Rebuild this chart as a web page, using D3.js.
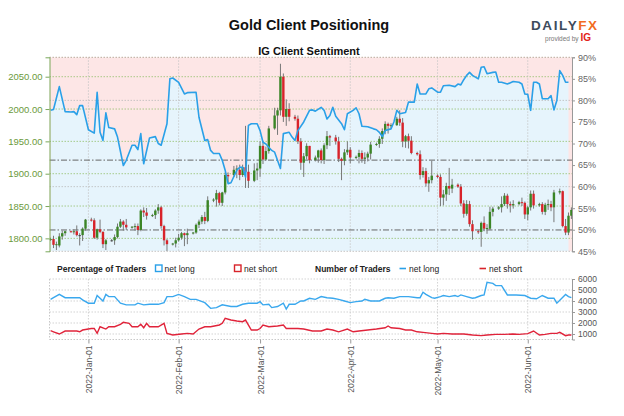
<!DOCTYPE html>
<html><head><meta charset="utf-8">
<script src="https://cdn.jsdelivr.net/npm/d3@7"></script>
<style>body{margin:0;background:#fff;} svg{display:block;font-family:"Liberation Sans",Arial,sans-serif;}</style>
</head><body><svg id="c" width="624" height="416"></svg>
<script>
// ---------- DATA ----------
const candleDates = [
"2021-12-19","2021-12-20","2021-12-21","2021-12-22","2021-12-23","2021-12-24",
"2021-12-26","2021-12-27","2021-12-28","2021-12-29","2021-12-30","2021-12-31",
"2022-01-02","2022-01-03","2022-01-04","2022-01-05","2022-01-06","2022-01-07",
"2022-01-09","2022-01-10","2022-01-11","2022-01-12","2022-01-13","2022-01-14",
"2022-01-16","2022-01-17","2022-01-18","2022-01-19","2022-01-20","2022-01-21",
"2022-01-23","2022-01-24","2022-01-25","2022-01-26","2022-01-27","2022-01-28",
"2022-01-30","2022-01-31","2022-02-01","2022-02-02","2022-02-03","2022-02-04",
"2022-02-06","2022-02-07","2022-02-08","2022-02-09","2022-02-10","2022-02-11",
"2022-02-13","2022-02-14","2022-02-15","2022-02-16","2022-02-17","2022-02-18",
"2022-02-20","2022-02-21","2022-02-22","2022-02-23","2022-02-24","2022-02-25",
"2022-02-27","2022-02-28","2022-03-01","2022-03-02","2022-03-03","2022-03-04",
"2022-03-06","2022-03-07","2022-03-08","2022-03-09","2022-03-10","2022-03-11",
"2022-03-13","2022-03-14","2022-03-15","2022-03-16","2022-03-17","2022-03-18",
"2022-03-20","2022-03-21","2022-03-22","2022-03-23","2022-03-24","2022-03-25",
"2022-03-27","2022-03-28","2022-03-29","2022-03-30","2022-03-31","2022-04-01",
"2022-04-03","2022-04-04","2022-04-05","2022-04-06","2022-04-07","2022-04-08",
"2022-04-10","2022-04-11","2022-04-12","2022-04-13","2022-04-14","2022-04-15",
"2022-04-17","2022-04-18","2022-04-19","2022-04-20","2022-04-21","2022-04-22",
"2022-04-24","2022-04-25","2022-04-26","2022-04-27","2022-04-28","2022-04-29",
"2022-05-01","2022-05-02","2022-05-03","2022-05-04","2022-05-05","2022-05-06",
"2022-05-08","2022-05-09","2022-05-10","2022-05-11","2022-05-12","2022-05-13",
"2022-05-15","2022-05-16","2022-05-17","2022-05-18","2022-05-19","2022-05-20",
"2022-05-22","2022-05-23","2022-05-24","2022-05-25","2022-05-26","2022-05-27",
"2022-05-29","2022-05-30","2022-05-31","2022-06-01","2022-06-02","2022-06-03",
"2022-06-05","2022-06-06","2022-06-07","2022-06-08","2022-06-09","2022-06-10",
"2022-06-12","2022-06-13","2022-06-14","2022-06-15","2022-06-16"];
const candleOpen = [
1798,1799,1790,1789,1803,1808, 1811,1810,1811,1805,1805,1815, 1829,1828,1801,1814,1810,1791,
1797,1797,1802,1818,1826,1821, 1817,1818,1819,1813,1843,1840, 1835,1836,1843,1848,1819,1797,
1791,1792,1797,1801,1808,1805, 1808,1809,1821,1826,1833,1827, 1859,1860,1870,1855,1871,1898,
1898,1906,1906,1898,1910,1903, 1889,1905,1908,1943,1922,1935, 1970,1990,1998,2050,1988,2000,
1988,1985,1950,1917,1927,1943, 1921,1925,1936,1921,1944,1958, 1956,1950,1923,1920,1933,1937,
1925,1926,1932,1923,1925,1931, 1945,1946,1954,1966,1977,1974, 1975,1985,1979,1950,1958,1951,
1932,1930,1898,1904,1885,1890, 1897,1895,1863,1868,1881,1877, 1883,1880,1854,1838,1853,1822,
1811,1810,1824,1815,1815,1841, 1846,1848,1853,1866,1853,1851, 1853,1856,1855,1837,1848,1869,
1851,1853,1841,1852,1853,1848, 1871,1873,1819,1809,1835];
const candleHigh = [
1801,1804,1795,1808,1812,1812, 1812,1814,1820,1808,1817,1830, 1832,1831,1815,1829,1811,1799,
1799,1806,1823,1830,1828,1830, 1819,1823,1823,1845,1848,1847, 1838,1845,1853,1850,1821,1799,
1793,1801,1807,1810,1809,1815, 1810,1823,1829,1836,1841,1865, 1862,1875,1872,1872,1902,1902,
1912,1913,1914,1914,1974,1914, 1916,1917,1950,1950,1942,1974, 2002,2002,2070,2055,2015,2009,
1991,1990,1955,1932,1947,1943, 1928,1937,1939,1947,1966,1960, 1960,1957,1925,1938,1950,1941,
1928,1937,1936,1933,1934,1949, 1948,1958,1970,1981,1979,1978, 1988,1998,1986,1960,1962,1958,
1934,1936,1910,1909,1895,1920, 1899,1899,1875,1886,1909,1892, 1885,1884,1859,1859,1858,1828,
1813,1826,1834,1822,1849,1849, 1850,1865,1870,1869,1857,1859, 1858,1863,1857,1850,1874,1874,
1855,1856,1855,1860,1858,1875, 1877,1874,1830,1840,1848];
const candleLow = [
1796,1785,1782,1786,1798,1804, 1809,1806,1803,1789,1796,1812, 1826,1799,1798,1808,1785,1782,
1795,1790,1800,1816,1812,1813, 1815,1812,1805,1811,1833,1829, 1833,1830,1838,1815,1789,1780,
1789,1786,1795,1798,1788,1791, 1806,1807,1816,1822,1822,1825, 1856,1849,1851,1850,1868,1887,
1895,1893,1890,1895,1878,1878, 1887,1890,1895,1915,1920,1931, 1968,1960,1990,1980,1974,1981,
1982,1946,1906,1895,1922,1916, 1919,1917,1916,1915,1938,1943, 1945,1918,1890,1913,1929,1916,
1922,1916,1917,1915,1919,1922, 1943,1940,1946,1961,1962,1970, 1974,1974,1941,1940,1939,1930,
1928,1891,1894,1880,1872,1885, 1893,1850,1851,1858,1867,1870, 1878,1850,1832,1835,1818,1798,
1807,1787,1811,1807,1813,1834, 1844,1840,1850,1846,1840,1846, 1851,1850,1830,1828,1843,1846,
1849,1837,1836,1844,1842,1825, 1868,1817,1805,1805,1830];
const candleClose = [
1799,1790,1791,1803,1808,1811, 1810,1811,1805,1805,1815,1829, 1828,1801,1814,1810,1791,1797,
1797,1802,1818,1826,1821,1817, 1818,1819,1813,1843,1840,1835, 1836,1843,1848,1819,1797,1791,
1792,1797,1801,1808,1805,1808, 1809,1821,1826,1833,1827,1859, 1860,1870,1855,1871,1898,1896,
1906,1908,1898,1910,1903,1889, 1905,1908,1943,1922,1935,1970, 1990,1998,2050,1988,2000,1988,
1985,1950,1917,1927,1943,1921, 1925,1936,1921,1944,1958,1956, 1950,1923,1920,1933,1937,1925,
1926,1932,1923,1925,1931,1945, 1946,1954,1966,1977,1974,1975, 1985,1979,1950,1958,1951,1932,
1930,1898,1904,1885,1890,1897, 1895,1863,1868,1881,1877,1883, 1880,1854,1838,1853,1822,1811,
1810,1824,1815,1816,1841,1846, 1848,1853,1866,1853,1851,1853, 1856,1855,1837,1848,1869,1851,
1853,1841,1852,1853,1848,1871, 1873,1819,1809,1835,1844];

// IG client sentiment: % of traders net long
const sentDates = [
"2021-12-19","2021-12-20","2021-12-22","2021-12-24","2021-12-26","2021-12-27","2021-12-28","2021-12-29","2021-12-30",
"2022-01-01","2022-01-03","2022-01-04","2022-01-05","2022-01-06","2022-01-07","2022-01-08","2022-01-10","2022-01-11",
"2022-01-13","2022-01-14","2022-01-16","2022-01-17","2022-01-18","2022-01-19","2022-01-20","2022-01-22","2022-01-24",
"2022-01-25","2022-01-26","2022-01-28","2022-01-29","2022-01-30",
"2022-02-01","2022-02-03","2022-02-04","2022-02-07","2022-02-08","2022-02-10","2022-02-11","2022-02-12","2022-02-13",
"2022-02-15","2022-02-16","2022-02-17","2022-02-18","2022-02-19","2022-02-21","2022-02-22","2022-02-23","2022-02-24",
"2022-02-25","2022-02-26","2022-02-28",
"2022-03-01","2022-03-02","2022-03-03","2022-03-05","2022-03-06","2022-03-08","2022-03-09","2022-03-11","2022-03-12",
"2022-03-13","2022-03-14","2022-03-16","2022-03-18","2022-03-19","2022-03-20","2022-03-22","2022-03-23","2022-03-24",
"2022-03-25","2022-03-26","2022-03-27","2022-03-29","2022-03-30","2022-03-31",
"2022-04-02","2022-04-03","2022-04-04","2022-04-05","2022-04-07","2022-04-09","2022-04-10","2022-04-11","2022-04-12",
"2022-04-13","2022-04-15","2022-04-16","2022-04-17","2022-04-18","2022-04-20","2022-04-21","2022-04-23","2022-04-24",
"2022-04-25","2022-04-27","2022-04-28","2022-04-29",
"2022-05-01","2022-05-02","2022-05-03","2022-05-05","2022-05-07","2022-05-08","2022-05-09","2022-05-10","2022-05-11",
"2022-05-12","2022-05-13","2022-05-15","2022-05-16","2022-05-17","2022-05-18","2022-05-20","2022-05-21","2022-05-22",
"2022-05-23","2022-05-25","2022-05-27","2022-05-29","2022-05-30","2022-05-31",
"2022-06-01","2022-06-02","2022-06-03","2022-06-04","2022-06-05","2022-06-06","2022-06-08","2022-06-09","2022-06-10",
"2022-06-11","2022-06-12","2022-06-13","2022-06-14","2022-06-15"];
const sentLong = [
77.7,77.9,83.2,77.4,77.3,77.4,76.7,78.8,78.8,
73.2,72.4,81.9,72.6,70.7,77.1,73.7,73.4,71.5,
64.9,66.1,69.6,69.6,68.6,72.3,65.3,71.3,71.6,
70.0,69.6,74.6,85.0,85.2,
84.2,81.5,81.8,81.9,76.1,70.7,70.9,68.4,67.7,
67.7,66.1,63.8,60.7,60.9,63.8,64.5,64.5,62.2,
74.2,74.6,74.6,
73.0,70.3,69.9,68.4,68.0,64.2,72.3,72.6,71.5,
70.7,73.0,75.0,77.7,77.8,77.5,78.4,77.7,75.7,
76.5,78.4,76.3,74.6,73.2,76.9,
77.7,78.3,76.9,74.0,73.9,73.4,73.2,72.6,71.6,
73.0,73.4,75.0,77.7,76.9,77.2,79.6,79.6,83.8,
81.5,81.5,82.7,82.9,
81.9,81.9,83.4,83.5,83.2,83.8,83.6,84.8,85.8,
86.5,85.8,85.0,87.7,87.8,86.2,86.5,86.6,84.2,
84.2,83.8,84.4,84.2,83.8,81.5,
81.4,77.7,84.2,84.2,83.8,80.4,80.4,81.1,77.8,
80.0,86.9,85.8,84.2,84.2];

// Number of traders net long
const longDates = [
"2021-12-19","2021-12-20","2021-12-22","2021-12-24","2021-12-29","2021-12-30",
"2022-01-01","2022-01-03","2022-01-04","2022-01-05","2022-01-06","2022-01-07","2022-01-08","2022-01-10","2022-01-12",
"2022-01-14","2022-01-17","2022-01-18","2022-01-20","2022-01-22","2022-01-25","2022-01-27","2022-01-28","2022-01-30",
"2022-02-01","2022-02-03","2022-02-05","2022-02-07","2022-02-10","2022-02-12","2022-02-14","2022-02-16","2022-02-19",
"2022-02-21","2022-02-23","2022-02-25","2022-02-28",
"2022-03-01","2022-03-02","2022-03-04","2022-03-05","2022-03-07","2022-03-09","2022-03-10","2022-03-11","2022-03-13",
"2022-03-15","2022-03-16","2022-03-18","2022-03-20","2022-03-22","2022-03-24","2022-03-26","2022-03-28","2022-03-30",
"2022-04-01","2022-04-03","2022-04-05","2022-04-06","2022-04-08","2022-04-11","2022-04-13","2022-04-14","2022-04-16",
"2022-04-18","2022-04-21","2022-04-24","2022-04-25","2022-04-26","2022-04-27","2022-04-29","2022-04-30",
"2022-05-02","2022-05-03","2022-05-05","2022-05-07","2022-05-08","2022-05-09","2022-05-11","2022-05-13","2022-05-14",
"2022-05-16","2022-05-17","2022-05-18","2022-05-20","2022-05-21","2022-05-23","2022-05-25","2022-05-28","2022-05-31",
"2022-06-02","2022-06-04","2022-06-06","2022-06-08","2022-06-10","2022-06-11","2022-06-14","2022-06-15","2022-06-16"];
const longCounts = [
4150,4300,4600,4300,4300,4100,
3800,3800,4500,4250,4000,4600,4400,4400,3800,
3650,3650,3800,3650,3700,3700,3850,4400,4400,
4600,4400,4150,4150,3850,3330,3400,3650,3500,
3500,3700,3800,3800,
3940,3650,3700,3400,3500,3800,3270,3700,3700,
4000,4000,4250,4150,4400,4300,4250,4150,4000,
3850,3940,4000,4150,4000,4000,4250,4300,4250,
4400,4400,4300,4300,4800,4600,4300,4250,
4400,4500,4400,4500,4400,4550,4400,4250,4300,
4500,4550,5700,5600,5400,5400,4550,4550,4500,
4250,4200,4500,4250,4250,3800,4600,4400,4300];

// Number of traders net short
const shortDates = [
"2021-12-19","2021-12-20","2021-12-22","2021-12-24","2021-12-28","2021-12-29","2021-12-30",
"2022-01-02","2022-01-03","2022-01-04","2022-01-05","2022-01-07","2022-01-08","2022-01-10","2022-01-12","2022-01-13",
"2022-01-15","2022-01-16","2022-01-18","2022-01-19","2022-01-20","2022-01-21","2022-01-22","2022-01-25","2022-01-27",
"2022-01-28","2022-01-30",
"2022-02-02","2022-02-04","2022-02-06","2022-02-08","2022-02-10","2022-02-12","2022-02-15","2022-02-16","2022-02-17",
"2022-02-19","2022-02-21","2022-02-23","2022-02-24","2022-02-26","2022-02-28",
"2022-03-01","2022-03-02","2022-03-04","2022-03-07","2022-03-09","2022-03-10","2022-03-12","2022-03-14","2022-03-16",
"2022-03-19","2022-03-22","2022-03-24","2022-03-26","2022-03-28","2022-03-31",
"2022-04-02","2022-04-04","2022-04-07","2022-04-10","2022-04-13","2022-04-14","2022-04-15","2022-04-18","2022-04-20",
"2022-04-22","2022-04-24","2022-04-26","2022-04-29",
"2022-05-01","2022-05-03","2022-05-06","2022-05-10","2022-05-13","2022-05-16","2022-05-18","2022-05-21","2022-05-24",
"2022-05-27","2022-05-29",
"2022-06-01","2022-06-03","2022-06-05","2022-06-07","2022-06-09","2022-06-11","2022-06-12","2022-06-14","2022-06-15","2022-06-16"];
const shortCounts = [
1300,1200,1000,1270,1270,1200,1360,
1500,1500,1060,1660,1450,1660,1660,1880,2060,
1970,1660,1660,1880,1570,1970,1660,1660,1970,
1060,910,
1000,1060,1000,1450,1660,1660,1820,1970,2420,
2270,2180,2120,2270,1360,1360,
1500,1820,1660,1730,1820,1500,1500,1500,1450,
1270,1270,1450,1360,1200,1450,
1200,1270,1360,1450,1570,1730,1570,1500,1360,
1360,1200,1150,1060,
1000,1060,1000,1000,910,850,910,970,970,
1000,970,
1030,1270,910,970,1060,1060,1150,850,910,910];

const priceTicks = [1800,1850,1900,1950,2000,2050];
const pctTicks = [45,50,55,60,65,70,75,80,85,90];
const countTicks = [1000,2000,3000,4000,5000,6000];
const monthTicks = ["2022-01-01","2022-02-01","2022-03-01","2022-04-01","2022-05-01","2022-06-01"];
const refLevels = [1921,1813];
const pctGuides = [80,60];

// ---------- CHART ----------
const parse = d3.timeParse("%Y-%m-%d");
const svg = d3.select("#c");
const L = 49.5, R = 572, T = 57.3, B = 251.3, T2 = 279, B2 = 339.5;

const x = d3.scaleTime().domain([new Date(2021,11,18,15), new Date(2022,5,16,5)]).range([L, R]);
const yP = d3.scaleLinear().domain([1780,2080]).range([B,T]);
const yS = d3.scaleLinear().domain([45,90]).range([B,T]);
const yN = d3.scaleLinear().domain([500,6000]).range([B2,T2]);

const candles = candleDates.map((d,i)=>({date:parse(d),o:candleOpen[i],h:candleHigh[i],l:candleLow[i],c:candleClose[i]}));
const sent = sentDates.map((d,i)=>({date:parse(d),v:sentLong[i]}));
const longs = longDates.map((d,i)=>({date:parse(d),v:longCounts[i]}));
const shorts = shortDates.map((d,i)=>({date:parse(d),v:shortCounts[i]}));
const months = monthTicks.map(parse);

svg.append("defs").append("clipPath").attr("id","clipMain")
  .append("rect").attr("x",L).attr("y",T).attr("width",R-L).attr("height",B-T);

// Titles
svg.append("text").attr("x",309).attr("y",30).attr("text-anchor","middle")
  .attr("font-size",14.5).attr("font-weight","bold").attr("fill","#111").text("Gold Client Positioning");
svg.append("text").attr("x",309).attr("y",54.5).attr("text-anchor","middle")
  .attr("font-size",11).attr("font-weight","bold").attr("fill","#111").text("IG Client Sentiment");
// Logo
const logo = svg.append("text").attr("x",531).attr("y",30).attr("font-size",13.5).attr("font-weight","bold").attr("letter-spacing",1.6);
logo.append("tspan").attr("fill","#3d4b5c").text("DAILY");
logo.append("tspan").attr("fill","#f26c22").text("FX");
const pb = svg.append("text").attr("x",591).attr("y",41).attr("text-anchor","end");
pb.append("tspan").attr("font-size",6.5).attr("fill","#777").text("provided by ");
pb.append("tspan").attr("font-size",10).attr("font-weight","bold").attr("fill","#e2231a").text("IG");

// Main plot background
const main = svg.append("g").attr("clip-path","url(#clipMain)");
main.append("rect").attr("x",L).attr("y",T).attr("width",R-L).attr("height",B-T).attr("fill","#fde6e6");
main.append("path").datum(sent).attr("fill","#e6f4fc")
  .attr("d", d3.area().x(d=>x(d.date)).y0(B).y1(d=>yS(d.v)));

// grid
main.selectAll(".gp").data(priceTicks).join("line")
  .attr("x1",L).attr("x2",R).attr("y1",d=>yP(d)).attr("y2",d=>yP(d))
  .attr("stroke","#95c06e").attr("stroke-width",0.8).attr("stroke-dasharray","1.5,1.5");
main.selectAll(".gs").data(pctGuides).join("line")
  .attr("x1",L).attr("x2",R).attr("y1",d=>yS(d)).attr("y2",d=>yS(d))
  .attr("stroke","#bbb").attr("stroke-width",0.8).attr("stroke-dasharray","1.5,1.5");
main.selectAll(".gm").data(months).join("line")
  .attr("x1",d=>x(d)).attr("x2",d=>x(d)).attr("y1",T).attr("y2",B)
  .attr("stroke","#c4c4c4").attr("stroke-width",0.8).attr("stroke-dasharray","1.5,1.5");
main.selectAll(".rl").data(refLevels).join("line")
  .attr("x1",L).attr("x2",R).attr("y1",d=>yP(d)).attr("y2",d=>yP(d))
  .attr("stroke","#666").attr("stroke-width",1).attr("stroke-dasharray","6,2,1.5,2");

// candles
const cw = 2.4;
const cg = main.append("g");
cg.selectAll("line").data(candles).join("line")
  .attr("x1",d=>x(d.date)).attr("x2",d=>x(d.date))
  .attr("y1",d=>yP(d.h)).attr("y2",d=>yP(d.l)).attr("stroke","#777").attr("stroke-width",1);
cg.selectAll("rect").data(candles).join("rect")
  .attr("x",d=>x(d.date)-cw/2).attr("width",cw)
  .attr("y",d=>yP(Math.max(d.o,d.c)))
  .attr("height",d=>Math.max(1,Math.abs(yP(d.o)-yP(d.c))))
  .attr("fill",d=>d.c>d.o?"#3b8526":(d.c<d.o?"#d8232a":"#444"));

// sentiment line
main.append("path").datum(sent).attr("fill","none").attr("stroke","#2aa0e8").attr("stroke-width",1.6)
  .attr("stroke-linejoin","round")
  .attr("d", d3.line().x(d=>x(d.date)).y(d=>yS(d.v)));

// borders
svg.append("line").attr("x1",L).attr("x2",R).attr("y1",T).attr("y2",T).attr("stroke","#b9a99a").attr("stroke-dasharray","1.5,1.5");
svg.append("line").attr("x1",L).attr("x2",R).attr("y1",B).attr("y2",B).attr("stroke","#c4c4c4").attr("stroke-dasharray","1.5,1.5");

// left axis
const ax = svg.append("g").attr("transform",`translate(${L},0)`)
  .call(d3.axisLeft(yP).tickValues(priceTicks).tickSize(4).tickSizeOuter(4).tickPadding(3).tickFormat(d3.format(".2f")));
ax.select(".domain").attr("stroke","#7aa85a");
ax.selectAll(".tick line").attr("stroke","#7aa85a");
ax.selectAll("text").attr("fill","#6b9a3c").attr("font-size",9.5).attr("font-family","Liberation Sans, Arial, sans-serif");

// right axis
const ar = svg.append("g").attr("transform",`translate(${R},0)`)
  .call(d3.axisRight(yS).tickValues(pctTicks).tickSize(3).tickSizeOuter(3).tickPadding(3).tickFormat(d=>d+"%"));
ar.select(".domain").attr("stroke","#999");
ar.selectAll(".tick line").attr("stroke","#999");
ar.selectAll("text").attr("fill","#666").attr("font-size",9).attr("font-family","Liberation Sans, Arial, sans-serif");

// legend
const lg = svg.append("g").attr("font-size",8.5).attr("fill","#222");
lg.append("text").attr("x",57).attr("y",272).attr("font-weight","bold").text("Percentage of Traders");
lg.append("rect").attr("x",155.5).attr("y",265).attr("width",6.5).attr("height",6.5).attr("fill","#fff").attr("stroke","#2aa0e8").attr("stroke-width",1.4);
lg.append("text").attr("x",164.5).attr("y",272).text("net long");
lg.append("rect").attr("x",234.5).attr("y",265).attr("width",6.5).attr("height",6.5).attr("fill","#fff").attr("stroke","#d8232a").attr("stroke-width",1.4);
lg.append("text").attr("x",244).attr("y",272).text("net short");
lg.append("text").attr("x",315).attr("y",272).attr("font-weight","bold").text("Number of Traders");
lg.append("line").attr("x1",399.5).attr("x2",406).attr("y1",268.5).attr("y2",268.5).attr("stroke","#2aa0e8").attr("stroke-width",1.6);
lg.append("text").attr("x",409).attr("y",272).text("net long");
lg.append("line").attr("x1",479.5).attr("x2",486).attr("y1",268.5).attr("y2",268.5).attr("stroke","#d8232a").attr("stroke-width",1.6);
lg.append("text").attr("x",489).attr("y",272).text("net short");

// bottom panel
const bp = svg.append("g");
bp.selectAll(".gn").data(countTicks).join("line")
  .attr("x1",L).attr("x2",R).attr("y1",d=>yN(d)).attr("y2",d=>yN(d))
  .attr("stroke","#c8c8c8").attr("stroke-width",0.8).attr("stroke-dasharray","1.5,1.5");
bp.selectAll(".gm2").data(months).join("line")
  .attr("x1",d=>x(d)).attr("x2",d=>x(d)).attr("y1",T2).attr("y2",B2)
  .attr("stroke","#c8c8c8").attr("stroke-width",0.8).attr("stroke-dasharray","1.5,1.5");
bp.append("line").attr("x1",L).attr("x2",R).attr("y1",B2).attr("y2",B2).attr("stroke","#c8c8c8").attr("stroke-dasharray","1.5,1.5");
bp.append("line").attr("x1",L).attr("x2",L).attr("y1",T2).attr("y2",B2).attr("stroke","#c8c8c8").attr("stroke-dasharray","1.5,1.5");
const ln = d3.line().x(d=>x(d.date)).y(d=>yN(d.v));
bp.append("path").datum(longs).attr("fill","none").attr("stroke","#3aa8ee").attr("stroke-width",1.4).attr("d",ln);
bp.append("path").datum(shorts).attr("fill","none").attr("stroke","#e0233a").attr("stroke-width",1.4).attr("d",ln);

const an = svg.append("g").attr("transform",`translate(${R},0)`)
  .call(d3.axisRight(yN).tickValues(countTicks).tickSize(3).tickSizeOuter(3).tickPadding(3).tickFormat(d3.format("d")));
an.select(".domain").attr("stroke","#999");
an.selectAll(".tick line").attr("stroke","#999");
an.selectAll("text").attr("fill","#555").attr("font-size",8.5).attr("font-family","Liberation Sans, Arial, sans-serif");

// x axis
const axb = svg.append("g").attr("transform",`translate(0,${B2})`)
  .call(d3.axisBottom(x).tickValues(months).tickSize(4).tickFormat(d3.timeFormat("%Y-%b-%d")));
axb.select(".domain").remove();
axb.selectAll(".tick line").attr("stroke","#999");
axb.selectAll("text").attr("transform","rotate(-90)").attr("text-anchor","end")
  .attr("x",-6).attr("y",0).attr("dy","0.35em")
  .attr("fill","#555").attr("font-size",8.5).attr("font-family","Liberation Sans, Arial, sans-serif");
</script></body></html>
